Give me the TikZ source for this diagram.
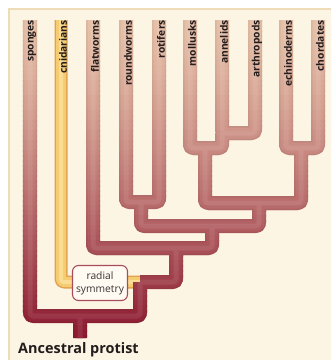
\documentclass[tikz,border=0pt]{standalone}
\usepackage{fontspec}
\setmainfont{Open Sans}
\begin{document}
\begin{tikzpicture}[x=1bp,y=-1bp,line join=round]
% palette
\definecolor{paper}{HTML}{FCF5E3}
\definecolor{edgetan}{HTML}{EEDCB8}
\definecolor{treetop}{HTML}{E6C0A8}
\definecolor{treebot}{HTML}{8A172E}
\definecolor{cnidout}{HTML}{E2A24E}
\definecolor{cnidmid}{HTML}{F6CC72}
\definecolor{cnidin}{HTML}{FADD92}
\definecolor{boxred}{HTML}{A84C5C}
\definecolor{boxfill}{HTML}{FFFAF2}
\definecolor{ink}{HTML}{231C1C}
\definecolor{softink}{HTML}{3C3434}
\tikzset{
  leaf/.style={rotate=90,anchor=east,inner sep=0pt,text=ink,
    font=\fontsize{10.3}{12}\selectfont\bfseries,yshift=-2bp},
  symbox/.style={draw=boxred,fill=boxfill,line width=1.1bp,rounded corners=6bp,
    align=center,minimum width=55bp,minimum height=35bp,inner sep=1bp,
    text=softink,font=\fontsize{10.3}{13}\selectfont},
  rootlabel/.style={anchor=base west,inner sep=0pt,text=ink,
    font=\fontsize{14.5}{17}\selectfont\bfseries},
  branch/.style={rounded corners=3bp}
}
\useasboundingbox (0,0) rectangle (331,360);
% page and cream panel
\fill[white] (0,0) rectangle (331,360);
\fill[paper] (8,8) rectangle (331,360);
\draw[edgetan,line width=2bp] (8,9) -- (331,9);
\draw[edgetan,line width=2bp] (9,8) -- (9,360);

% leaf tops
\coordinate (spT) at (30,20);
\coordinate (cnT) at (61,20);
\coordinate (flT) at (93,20);
\coordinate (rwT) at (126,20);
\coordinate (rtT) at (159,20);
\coordinate (moT) at (190,20);
\coordinate (anT) at (222,20);
\coordinate (arT) at (255,20);
\coordinate (ecT) at (286,20);
\coordinate (chT) at (318,20);
% branch points
\coordinate (jA) at (141,202);
\coordinate (jB) at (222,133);
\coordinate (jC) at (205,148);
\coordinate (jD) at (301,148);
\coordinate (jE) at (259,203);
\coordinate (jF) at (212,226);
\coordinate (jG) at (176,248);
\coordinate (jH) at (140,282);
\coordinate (jI) at (80,316);
\coordinate (root) at (80,338);

% branches of the tree (all but the cnidarian line)
\newcommand\phylobranches{
  (spT) |- (jI) -| (jH)
  (jI) -- (root)
  (flT) |- (jG) -| (jF)
  (jG) |- (jH)
  (rwT) |- (jA) -| (rtT)
  (jA) |- (jF) -| (jE)
  (jC) |- (jE) -| (jD)
  (moT) |- (jC) -| (jB)
  (anT) -- (jB) -| (arT)
  (ecT) |- (jD) -| (chT)
}

% cnidarian line
\draw[branch,cnidout,line width=13bp] (cnT) |- (jH);
\draw[branch,cnidmid,line width=10bp] (cnT) |- (jH);
\draw[branch,cnidin,line width=4bp] (cnT) |- (jH);

% tree, coloured band by band from light top to dark base
\foreach \i in {0,...,65}{
  \pgfmathsetmacro\ya{15+5*\i}
  \pgfmathsetmacro\tt{max(0,min(1,(\ya+2.5-20)/318))}
  \pgfmathtruncatemacro\pc{100*\tt^1.25}
  \colorlet{bandc}{treebot!\pc!treetop}
  \begin{scope}
    \clip (0,\ya) rectangle (331,\ya+6);
    \draw[branch,bandc!95!black,line width=14bp] \phylobranches;
    \draw[branch,bandc,line width=11bp] \phylobranches;
    \draw[branch,bandc!92!white,line width=5bp] \phylobranches;
  \end{scope}
}

% taxa
\node[leaf] (lsp) at (spT) {sponges};
\node[leaf] (lcn) at (cnT) {cnidarians};
\node[leaf] (lfl) at (flT) {flatworms};
\node[leaf] (lrw) at (rwT) {roundworms};
\node[leaf] (lrt) at (rtT) {rotifers};
\node[leaf] (lmo) at (moT) {mollusks};
\node[leaf] (lan) at (anT) {annelids};
\node[leaf] (lar) at (arT) {arthropods};
\node[leaf] (lec) at (ecT) {echinoderms};
\node[leaf] (lch) at (chT) {chordates};

\node[symbox] (radial) at (100,283) {radial\\symmetry};
\node[rootlabel] (protist) at (18,353) {Ancestral protist};
\end{tikzpicture}
\end{document}
